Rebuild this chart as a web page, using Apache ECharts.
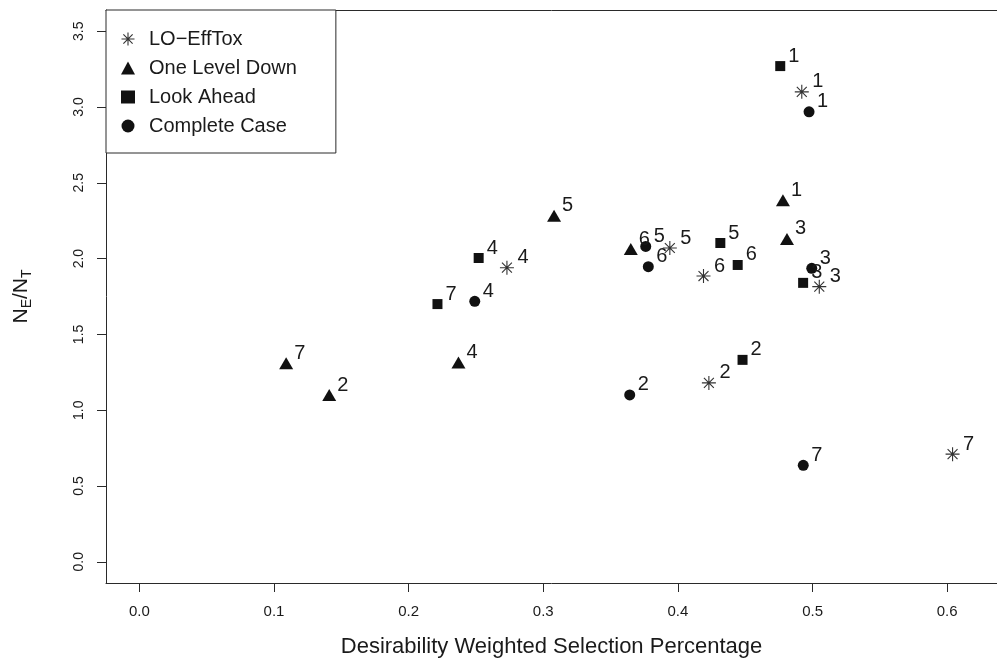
<!DOCTYPE html>
<html>
<head>
<meta charset="utf-8">
<script src="https://cdn.jsdelivr.net/npm/echarts@6/dist/echarts.min.js"></script>
<style>
html,body{margin:0;padding:0;background:#fff;}
#chart{width:997px;height:664px;}
</style>
</head>
<body>
<div id="chart"></div>
<script>
// ---- data ----
const seriesNames = ['LO\u2212EffTox', 'One Level Down', 'Look Ahead', 'Complete Case'];
const pointLabels = ['1', '2', '3', '4', '5', '6', '7'];
const loEffToxX = [0.492, 0.423, 0.505, 0.273, 0.394, 0.419, 0.604];
const loEffToxY = [3.10, 1.18, 1.815, 1.94, 2.07, 1.885, 0.71];
const oneLevelDownX = [0.478, 0.141, 0.481, 0.237, 0.308, 0.365, 0.109];
const oneLevelDownY = [2.385, 1.10, 2.13, 1.315, 2.283, 2.063, 1.31];
const lookAheadX = [0.476, 0.448, 0.493, 0.252, 0.4315, 0.4444, 0.2214];
const lookAheadY = [3.27, 1.332, 1.84, 2.004, 2.103, 1.958, 1.70];
const completeCaseX = [0.4974, 0.3642, 0.4994, 0.2491, 0.3761, 0.378, 0.4931];
const completeCaseY = [2.968, 1.101, 1.936, 1.718, 2.08, 1.947, 0.636];
const xTicks = [0, 0.1, 0.2, 0.3, 0.4, 0.5, 0.6];
const yTicks = [0, 0.5, 1.0, 1.5, 2.0, 2.5, 3.0, 3.5];

// ---- chart ----
const FONT = 'Liberation Sans, Arial, Helvetica, sans-serif';
const TXT = '#1a1a1a';
const AX = '#2a2a2a';
const MK = '#111';
const starPath = 'path://M0,-1L0,1M-1,0L1,0M-0.71,-0.71L0.71,0.71M-0.71,0.71L0.71,-0.71';
const X_MIN = -0.0248, X_MAX = 0.637;

function pts(xs, ys) { return xs.map((x, i) => [x, ys[i], pointLabels[i]]); }

const styles = [
  { symbol: starPath, size: 14, item: { color: 'none', borderColor: '#333', borderWidth: 1.1, opacity: 1 }, dist: 1 },
  { symbol: 'triangle', size: [14, 12], item: { color: MK, opacity: 1 }, dist: 1 },
  { symbol: 'rect', size: 10, item: { color: MK, opacity: 1 }, dist: 3 },
  { symbol: 'circle', size: 11, item: { color: MK, opacity: 1 }, dist: 2.5 }
];
const dataSets = [
  pts(loEffToxX, loEffToxY),
  pts(oneLevelDownX, oneLevelDownY),
  pts(lookAheadX, lookAheadY),
  pts(completeCaseX, completeCaseY)
];

const series = seriesNames.map((name, k) => ({
  name: name,
  type: 'scatter',
  data: dataSets[k],
  symbol: styles[k].symbol,
  symbolSize: styles[k].size,
  symbolKeepAspect: true,
  itemStyle: styles[k].item,
  label: {
    show: true,
    position: 'right',
    distance: styles[k].dist,
    offset: [0, -10],
    formatter: p => p.data[2],
    fontSize: 20,
    fontFamily: FONT,
    color: TXT
  },
  emphasis: { disabled: true },
  animation: false
}));

const chart = echarts.init(document.getElementById('chart'));
chart.setOption({
  backgroundColor: '#fff',
  animation: false,
  textStyle: { fontFamily: FONT },
  grid: { left: 106, top: 10, right: 0, bottom: 81, show: false },
  legend: {
    left: 106, top: 10, orient: 'vertical',
    padding: [19, 39, 17, 13],
    itemWidth: 14, itemHeight: 13, itemGap: 9,
    borderColor: AX, borderWidth: 1, backgroundColor: '#fff',
    selectedMode: false,
    textStyle: { fontSize: 20, color: TXT, fontFamily: FONT, lineHeight: 20, padding: [0, 0, 0, 9] },
    data: seriesNames.map((n, k) => ({ name: n, icon: styles[k].symbol, itemStyle: styles[k].item }))
  },
  xAxis: [{
    type: 'value', min: X_MIN, max: X_MAX,
    axisLine: { show: true, onZero: false, lineStyle: { color: AX, width: 1 } },
    axisTick: { show: true, length: 9, customValues: xTicks, lineStyle: { color: AX } },
    axisLabel: { customValues: xTicks, formatter: v => v.toFixed(1), fontSize: 15, color: TXT, margin: 21, fontFamily: FONT },
    splitLine: { show: false },
    name: 'Desirability Weighted Selection Percentage',
    nameLocation: 'middle', nameGap: 53,
    nameTextStyle: { fontSize: 22, color: TXT, fontFamily: FONT }
  }, {
    type: 'value', min: X_MIN, max: X_MAX, position: 'top',
    axisLine: { show: true, onZero: false, lineStyle: { color: AX, width: 1 } },
    axisTick: { show: false }, axisLabel: { show: false }, splitLine: { show: false }
  }],
  yAxis: {
    type: 'value', min: -0.14, max: 3.64,
    axisLine: { show: true, onZero: false, lineStyle: { color: AX, width: 1 } },
    axisTick: { show: true, length: 9, customValues: yTicks, lineStyle: { color: AX } },
    axisLabel: { customValues: yTicks, formatter: v => v.toFixed(1), fontSize: 14, color: TXT, margin: 20, rotate: 90, fontFamily: FONT },
    splitLine: { show: false },
    name: '{n|N}{s|E}{n|/N}{s|T}',
    nameLocation: 'middle', nameGap: 72, nameRotate: 90,
    nameTextStyle: {
      rich: {
        n: { fontSize: 21, color: TXT, fontFamily: FONT, lineHeight: 23, verticalAlign: 'top' },
        s: { fontSize: 14, color: TXT, fontFamily: FONT, lineHeight: 14, padding: [11, 0, 0, 0], verticalAlign: 'bottom' }
      }
    }
  },
  series: series
});
</script>
</body>
</html>
